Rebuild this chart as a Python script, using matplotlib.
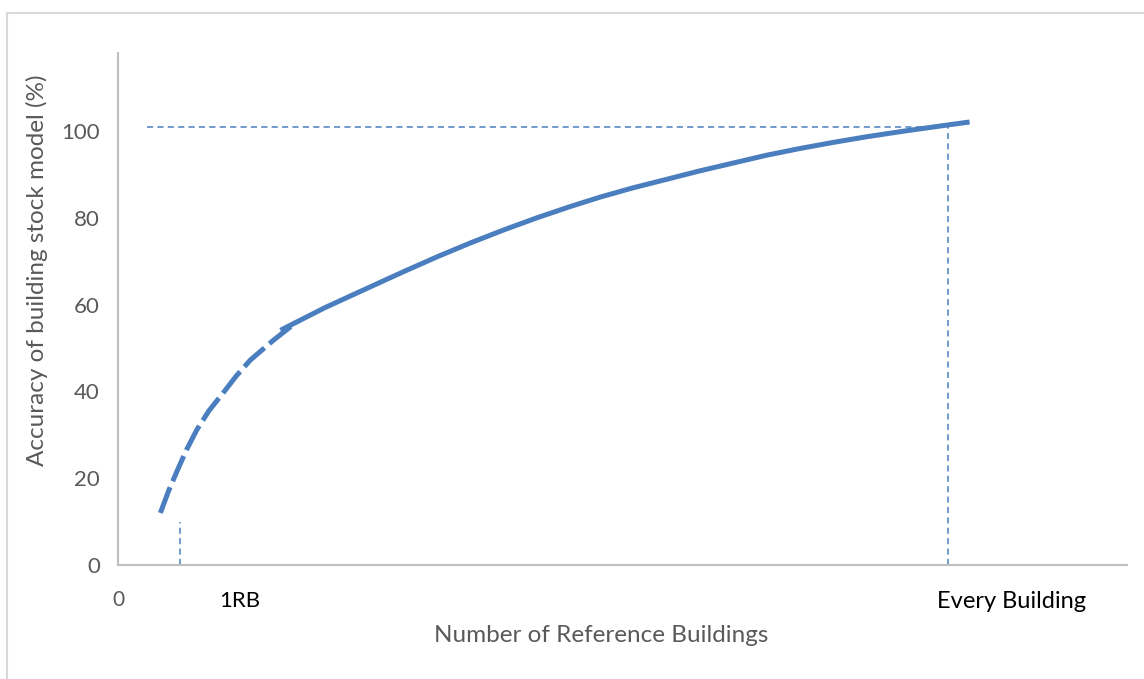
import numpy as np
import matplotlib.pyplot as plt
from matplotlib.patches import Rectangle
from matplotlib.transforms import Bbox, TransformedBbox

# data (x in arbitrary units 0..100, y in %)
x_dash = [4.2, 5.0, 5.9, 6.8, 7.8, 9.0, 10.4, 11.7, 13.1, 15.4, 17.7]
y_dash = [12.0, 17.0, 21.9, 26.6, 31.1, 35.5, 39.6, 43.5, 47.2, 51.8, 56.0]

x_solid = [16.1, 20.5, 25.0, 28.3, 31.6, 34.9, 38.2, 41.5, 44.8, 47.8, 51.0,
           54.4, 57.6, 60.9, 64.2, 67.6, 70.9, 74.2, 78.2, 82.2, 84.4]
y_solid = [54.1, 59.3, 64.1, 67.6, 71.0, 74.2, 77.2, 80.0, 82.6, 84.8, 86.9,
           88.9, 90.8, 92.6, 94.4, 96.0, 97.4, 98.7, 100.1, 101.4, 102.1]

x_1rb = 6.1
y_1rb = 9.9
x_every = 82.3
y_every = 101.0
x_hline_start = 2.9

yticks = [0, 20, 40, 60, 80, 100]
blue = '#4A7EBF'

fig = plt.figure(figsize=(11.44, 6.79), dpi=100)
plt.rcParams['font.family'] = ['Lato', 'DejaVu Sans']

# light frame of the chart area
fig.patches.append(Rectangle((7 / 1144, -0.05), 1.1, 1.05 - 13 / 679,
                             transform=fig.transFigure, fill=False,
                             edgecolor='#d9d9d9', linewidth=1.5))

ax = fig.add_axes([118 / 1144, 114 / 679, (1127 - 118) / 1144, (565 - 53) / 679])
ax.set_xlim(0, 100)
ax.set_ylim(0, 118)

ax.plot(x_dash, y_dash, color=blue, lw=3.6, dashes=(5.5, 1.3), solid_capstyle='butt')
ax.plot(x_solid, y_solid, color=blue, lw=3.6, solid_capstyle='butt')

thin = dict(color=blue, lw=1.1, dashes=(4, 2.8))
ax.plot([x_1rb, x_1rb], [0, y_1rb], **thin)
ax.plot([x_every, x_every], [0, y_every], **thin)
ax.plot([x_hline_start, x_every], [y_every, y_every], **thin)

for s in ['top', 'right']:
    ax.spines[s].set_visible(False)
for s in ['left', 'bottom']:
    ax.spines[s].set_color('#bfbfbf')
    ax.spines[s].set_linewidth(1.5)

ax.set_yticks(yticks)
ax.set_yticklabels([str(v) for v in yticks], color='#595959', fontsize=16)
ax.tick_params(axis='y', length=0, pad=13)
ax.set_xticks([])

# clipped "120" label at the very top
t = fig.text(100 / 1144, 1 - 44 / 679, '120', color='#595959', fontsize=16,
             ha='right', va='center')
t.set_clip_box(TransformedBbox(Bbox([[0, 0], [1, 1 - 50 / 679]]), fig.transFigure))

fig.text(118 / 1144, 1 - 600 / 679, '0', color='#595959', fontsize=15, ha='center', va='center')
fig.text(240 / 1144, 1 - 601 / 679, '1RB', color='black', fontsize=16, ha='center', va='center')
fig.text(1012 / 1144, 1 - 601 / 679, 'Every Building', color='black', fontsize=17,
         ha='center', va='center')

fig.text(601 / 1144, 1 - 636 / 679, 'Number of Reference Buildings', color='#595959',
         fontsize=17.5, ha='center', va='center')
fig.text(37 / 1144, 1 - 270 / 679, 'Accuracy of building stock model (%)', color='#595959',
         fontsize=17.5, ha='center', va='center', rotation=90)

fig.savefig('out.png', dpi=100)
